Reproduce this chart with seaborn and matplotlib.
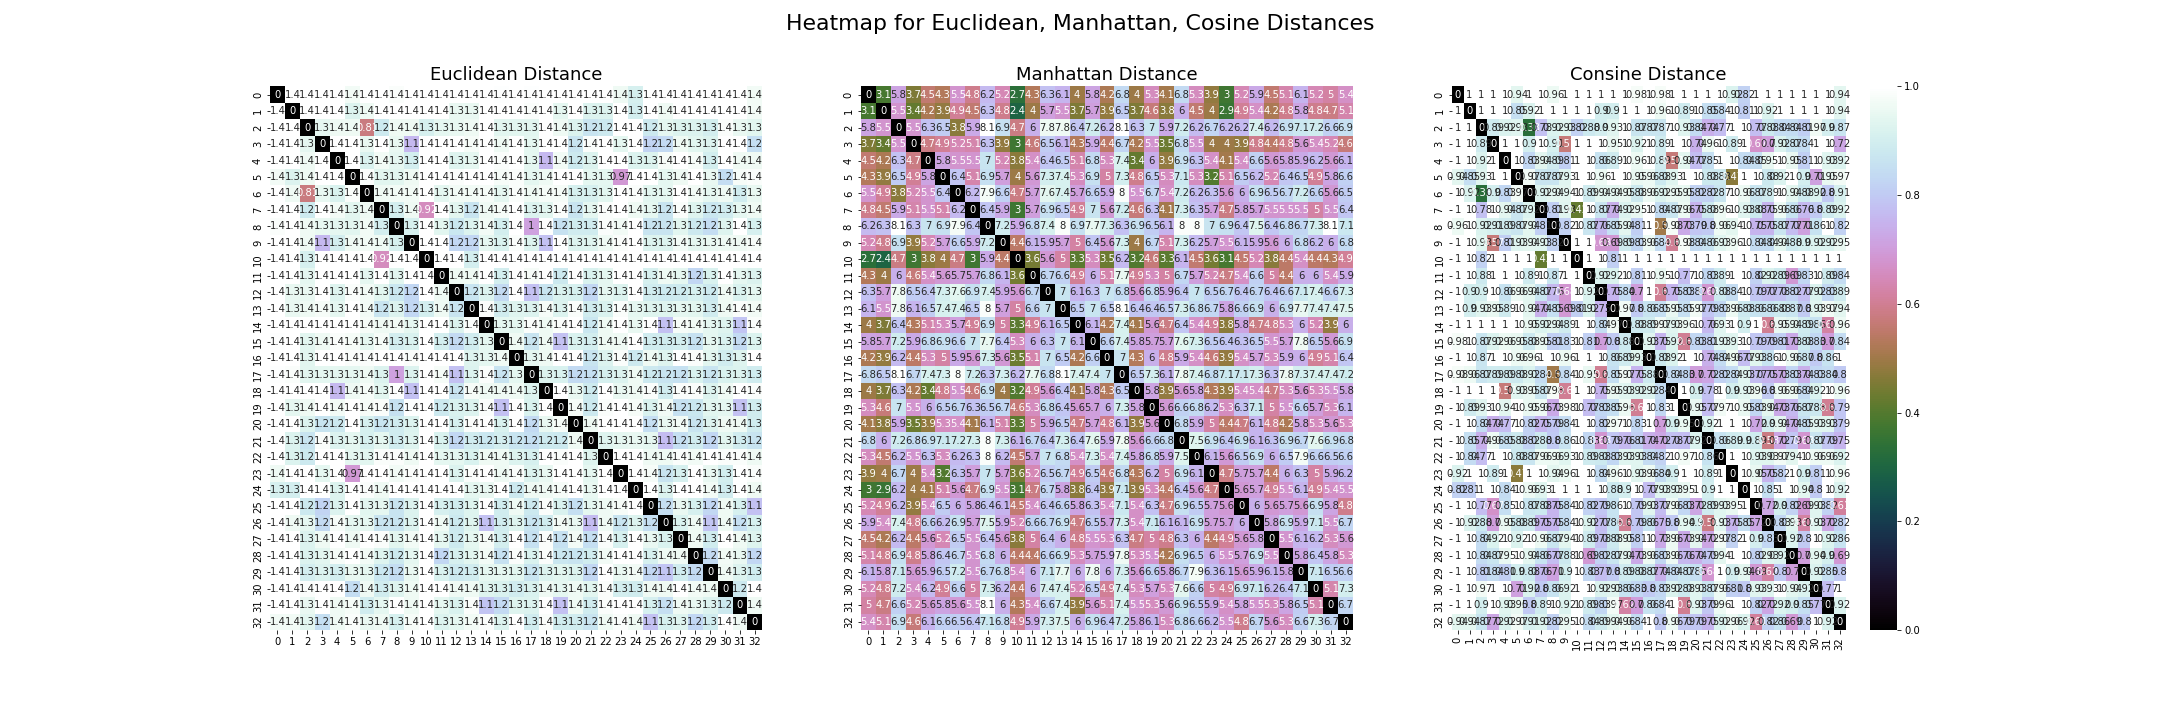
import numpy as np
import pandas as pd
import matplotlib
matplotlib.use("Agg")
import matplotlib.pyplot as plt
import seaborn as sns

labels = list(range(33))
titles = ["Euclidean Distance", "Manhattan Distance", "Consine Distance"]
suptitle = "Heatmap for Euclidean, Manhattan, Cosine Distances"

# upper triangles, row by row (values right of the zero diagonal)
euclidean_rows = [
[1.41,1.41,1.41,1.41,1.37,1.41,1.41,1.39,1.41,1.41,1.41,1.41,1.41,1.41,1.40,1.41,1.40,1.41,1.41,1.41,1.41,1.41,1.36,1.28,1.41,1.41,1.41,1.41,1.41,1.41,1.41,1.37],
[1.41,1.41,1.41,1.30,1.36,1.41,1.41,1.41,1.41,1.41,1.34,1.34,1.41,1.41,1.41,1.39,1.41,1.33,1.41,1.30,1.30,1.41,1.27,1.41,1.36,1.41,1.41,1.41,1.41,1.41,1.37],
[1.33,1.36,1.36,.81,1.25,1.36,1.36,1.28,1.33,1.34,1.36,1.41,1.32,1.32,1.32,1.41,1.36,1.30,1.22,1.24,1.41,1.41,1.24,1.33,1.30,1.30,1.27,1.39,1.34,1.32],
[1.41,1.41,1.34,1.41,1.34,1.07,1.41,1.41,1.41,1.38,1.41,1.36,1.41,1.33,1.41,1.41,1.22,1.39,1.41,1.33,1.41,1.16,1.18,1.36,1.32,1.30,1.41,1.41,1.20],
[1.41,1.29,1.37,1.33,1.27,1.41,1.41,1.31,1.33,1.41,1.39,1.41,1.33,1.07,1.37,1.24,1.30,1.41,1.41,1.30,1.30,1.38,1.41,1.38,1.27,1.41,1.36,1.36],
[1.39,1.32,1.32,1.36,1.41,1.41,1.39,1.41,1.41,1.38,1.39,1.33,1.36,1.41,1.41,1.33,1.33,.97,1.41,1.41,1.33,1.36,1.41,1.34,1.19,1.38,1.39],
[1.36,1.37,1.37,1.41,1.33,1.37,1.37,1.38,1.33,1.39,1.36,1.38,1.38,1.28,1.28,1.32,1.41,1.39,1.32,1.33,1.41,1.37,1.33,1.36,1.26,1.34],
[1.27,1.36,.92,1.41,1.32,1.22,1.36,1.38,1.41,1.30,1.32,1.39,1.22,1.33,1.39,1.41,1.36,1.33,1.22,1.39,1.31,1.23,1.26,1.33,1.36],
[1.28,1.41,1.32,1.23,1.30,1.37,1.27,1.41,1,1.40,1.21,1.26,1.26,1.39,1.37,1.41,1.22,1.22,1.32,1.24,1.19,1.31,1.41,1.28],
[1.41,1.41,1.17,1.17,1.33,1.29,1.39,1.30,1.10,1.40,1.30,1.31,1.36,1.39,1.41,1.30,1.30,1.37,1.33,1.34,1.36,1.36,1.38],
[1.41,1.41,1.27,1.41,1.41,1.41,1.41,1.41,1.41,1.41,1.41,1.41,1.41,1.41,1.41,1.41,1.41,1.41,1.41,1.41,1.41,1.41],
[1.36,1.36,1.41,1.27,1.41,1.38,1.41,1.24,1.41,1.29,1.33,1.41,1.41,1.28,1.36,1.33,1.17,1.29,1.41,1.33,1.30],
[1.22,1.30,1.18,1.41,1.10,1.22,1.29,1.28,1.17,1.33,1.30,1.41,1.26,1.24,1.25,1.28,1.24,1.36,1.29,1.33],
[1.39,1.26,1.31,1.30,1.38,1.30,1.39,1.26,1.29,1.39,1.33,1.31,1.31,1.33,1.32,1.26,1.36,1.39,1.37],
[1.33,1.33,1.39,1.36,1.39,1.41,1.23,1.36,1.41,1.34,1.41,1.10,1.38,1.37,1.33,1.31,1.11,1.39],
[1.36,1.22,1.36,1.10,1.29,1.27,1.36,1.36,1.41,1.26,1.26,1.27,1.21,1.33,1.29,1.18,1.30],
[1.33,1.36,1.41,1.41,1.22,1.30,1.39,1.24,1.36,1.31,1.41,1.39,1.32,1.26,1.31,1.41],
[1.30,1.29,1.18,1.20,1.28,1.30,1.36,1.24,1.22,1.21,1.29,1.22,1.29,1.30,1.26],
[1.41,1.34,1.25,1.41,1.34,1.36,1.39,1.26,1.39,1.39,1.30,1.36,1.41,1.39],
[1.38,1.24,1.39,1.41,1.38,1.29,1.37,1.21,1.23,1.32,1.33,1.10,1.26],
[1.36,1.41,1.41,1.41,1.20,1.34,1.37,1.22,1.30,1.36,1.36,1.26],
[1.31,1.33,1.34,1.33,1.08,1.20,1.26,1.17,1.32,1.26,1.22],
[1.41,1.41,1.36,1.36,1.39,1.37,1.41,1.39,1.39,1.36],
[1.41,1.38,1.22,1.28,1.41,1.34,1.27,1.41,1.39],
[1.41,1.30,1.41,1.41,1.37,1.26,1.41,1.36],
[1.20,1.34,1.28,1.17,1.36,1.28,1.10],
[1.29,1.36,1.11,1.36,1.20,1.28],
[1.36,1.26,1.41,1.36,1.31],
[1.18,1.37,1.34,1.17],
[1.36,1.30,1.26],
[1.24,1.41],
[1.36],
]

manhattan_rows = [
[3.1,5.8,3.7,4.5,4.3,5.5,4.8,6.2,5.2,2.7,4.3,6.3,6.1,4,5.8,4.2,6.8,4,5.3,4.1,6.8,5.3,3.9,3,5.2,5.9,4.5,5.1,6.1,5.2,5,5.4],
[5.5,3.4,4.2,3.9,4.9,4.5,6.3,4.8,2.4,4,5.7,5.5,3.7,5.7,3.9,6.5,3.7,4.6,3.8,6,4.5,4,2.9,4.9,5.4,4.2,4.8,5.8,4.8,4.7,5.1],
[5.5,6.3,6.5,3.8,5.9,8.1,6.9,4.7,6,7.8,7.8,6.4,7.2,6.2,8.1,6.3,7,5.9,7.2,6.2,6.7,6.2,6.2,7.4,6.2,6.9,7.1,7.2,6.6,6.9],
[4.7,4.9,5.2,5.1,6.3,3.9,3,4.6,6.5,6.1,4.3,5.9,4.4,6.7,4.2,5.5,3.5,6.8,5.5,4,4,3.9,4.8,4.4,4.8,5.6,5.4,5.2,4.6],
[5.8,5.5,5.5,7,5.2,3.8,5.4,6.4,6.5,5.1,6.8,5.3,7.4,3.4,6,3.9,6.9,6.3,5.4,4.1,5.4,6.6,5.6,5.8,5.9,6.2,5.6,6.1],
[6.4,5.1,6.9,5.7,4,5.6,7.3,7.4,5.3,6.9,5,7.3,4.8,6.5,5.3,7.1,5.3,3.2,5.1,6.5,6.2,5.2,6.4,6.5,4.9,5.8,6.6],
[6.2,7.9,6.6,4.7,5.7,7.6,7.4,5.7,6.6,5.9,8,5.5,6.7,5.4,7.2,6.2,6.3,5.6,6,6.9,6.5,6.7,7.2,6.6,5.6,6.5],
[6.4,5.9,3,5.7,6.9,6.5,4.9,7,5.6,7.2,4.6,6.3,4.1,7.3,6.3,5.7,4.7,5.8,5.7,5.5,5.5,5.5,5,5.5,6.4],
[7.2,5.9,6.8,7.4,8,6.9,7.7,7.3,6.3,6.9,6.5,6.1,8,8,7,6.9,6.4,7.5,6.4,6.8,6.7,7.3,8.1,7.1],
[4.4,6.1,5.9,5.7,5,6.4,5.6,7.3,4,6.7,5.1,7.3,6.2,5.7,5.5,6.1,5.9,5.6,6,6.8,6.2,6,6.8],
[3.6,5.6,5,3.3,5.3,3.5,6.2,3.2,4.6,3.3,6.1,4.5,3.6,3.1,4.5,5.2,3.8,4.4,5.4,4.4,4.3,4.9],
[6.7,6.6,4.9,6,5.1,7.7,4.9,5.3,5,6.7,5.7,5.2,4.7,5.4,6.6,5,4.4,6,6,5.4,5.9],
[7,6.1,6.3,7,6.8,5.6,6.8,5.9,6.4,7,6.5,6.7,6.4,6.7,6.4,6.6,7.1,7.4,6.6,7.3],
[6.5,7,6.5,8.1,6.4,6.4,6.5,7.3,6.8,6.7,5.8,6.6,6.9,6,6.9,7.7,7.4,7.4,7.5],
[6.1,4.2,7.4,4.1,5.6,4.7,6.4,5.4,4.9,3.8,5.8,4.7,4.8,5.3,6,5.2,3.9,6],
[6.6,7.4,5.8,5.7,5.7,7.6,7.3,6.5,6.4,6.3,6.5,5.5,5.7,7.8,6.5,5.6,6.9],
[7,4.3,6,4.8,5.9,5.4,4.6,3.9,5.4,5.7,5.3,5.9,6,4.9,5.1,6.4],
[6.5,7.3,6.1,7.8,7.4,6.8,7.1,7.1,7.3,6.3,7.8,7.3,7.4,7.4,7.2],
[5.8,3.9,5.6,5.8,4.3,3.9,5.4,5.4,4.7,5.3,5.6,5.3,5.5,5.8],
[5.6,6.6,6.8,6.2,5.3,6.3,7.1,5,5.5,6.6,5.7,5.3,6.1],
[6.8,5.9,5,4.4,4.7,6.1,4.8,4.2,5.8,5.3,5.6,5.3],
[7.5,6.9,6.4,6.9,6.1,6.3,6.9,6.7,7.6,6.9,6.8],
[6.1,5.6,6.5,6.9,6,6.5,7.9,6.6,6.5,6.6],
[4.7,5.7,5.7,4.4,6,6.3,5,5.9,6.2],
[5.6,5.7,4.9,5.5,6.1,4.9,5.4,5.5],
[6,5.6,5.7,5.6,6.9,5.8,4.8],
[5.8,6.9,5.9,7.1,5.5,6.7],
[5.5,6.1,6.2,5.3,5.6],
[5.8,6.4,5.8,5.3],
[7.1,6.5,6.6],
[5.1,7.3],
[6.7],
]

cosine_rows = [
[1,1,1,1,.94,1,1,.96,1,1,1,1,1,1,.98,1,.98,1,1,1,1,1,.92,.82,1,1,1,1,1,1,1,.94],
[1,1,1,.85,.92,1,1,1,1,1,.9,.9,1,1,1,.96,1,.89,1,.85,.84,1,.81,1,.92,1,1,1,1,1,.94],
[.89,.92,.93,.33,.78,.92,.93,.82,.88,.9,.93,1,.87,.87,.87,1,.93,.84,.74,.77,1,1,.77,.88,.84,.84,.81,.97,.9,.87],
[1,1,.9,1,.91,.57,1,1,1,.95,1,.92,1,.89,1,1,.74,.96,1,.89,1,.67,.7,.92,.87,.84,1,1,.72],
[1,.83,.94,.89,.81,1,1,.86,.89,1,.96,1,.89,.57,.94,.77,.85,1,1,.84,.85,.95,1,.95,.81,1,.93,.92],
[.97,.87,.87,.93,1,1,.96,1,1,.95,.96,.88,.93,1,1,.88,.88,.47,1,1,.88,.92,1,.9,.71,.95,.97],
[.92,.94,.94,1,.89,.94,.94,.95,.88,.96,.92,.95,.95,.82,.82,.87,1,.96,.87,.89,1,.94,.88,.92,.8,.91],
[.81,.93,.42,1,.87,.74,.92,.95,1,.84,.87,.96,.75,.88,.96,1,.93,.88,.75,.96,.86,.76,.8,.89,.92],
[.82,1,.87,.76,.85,.94,.81,1,.5,.98,.73,.79,.8,.96,.94,1,.75,.75,.87,.77,.71,.86,1,.82],
[1,1,.68,.69,.89,.83,.96,.84,.6,.98,.84,.86,.93,.96,1,.84,.84,.94,.88,.9,.92,.92,.95],
[1,1,.81,1,1,1,1,1,1,1,1,1,1,1,1,1,1,1,1,1,1,1],
[.92,.92,1,.81,1,.95,1,.77,1,.83,.89,1,1,.82,.92,.89,.69,.83,1,.89,.84],
[.75,.84,.7,1,.6,.75,.83,.82,.68,.88,.84,1,.79,.77,.78,.82,.77,.92,.83,.89],
[.97,.8,.86,.85,.95,.85,.97,.79,.83,.96,.88,.86,.86,.88,.87,.8,.93,.97,.94],
[.88,.89,.97,.93,.96,1,.76,.93,1,.9,1,.6,.95,.94,.89,.86,.62,.96],
[.93,.75,.92,.6,.83,.81,.93,.93,1,.79,.79,.81,.73,.88,.83,.7,.84],
[.88,.92,1,1,.74,.84,.96,.77,.93,.86,1,.96,.87,.8,.86,1],
[.84,.83,.7,.72,.82,.84,.93,.77,.75,.73,.83,.74,.83,.84,.8],
[1,.9,.78,1,.9,.93,.96,.8,.96,.96,.84,.92,1,.96],
[.95,.77,.97,1,.95,.83,.94,.73,.76,.87,.88,.6,.79],
[.92,1,1,1,.72,.9,.94,.74,.85,.93,.93,.79],
[.86,.89,.9,.89,.58,.72,.79,.68,.87,.79,.75],
[1,1,.93,.93,.97,.94,1,.96,.96,.92],
[1,.95,.75,.82,1,.9,.81,1,.96],
[1,.85,1,1,.94,.8,1,.92],
[.72,.9,.82,.69,.93,.82,.61],
[.83,.93,.62,.93,.72,.82],
[.92,.8,1,.92,.86],
[.7,.94,.9,.69],
[.92,.85,.8],
[.77,1],
[.92],
]


def square_frame(rows):
    n = len(labels)
    m = np.zeros((n, n))
    for i, r in enumerate(rows):
        m[i, i + 1:] = r
    return pd.DataFrame(m + m.T, index=labels, columns=labels)


plt.rcParams.update(plt.rcParamsDefault)

fig, axes = plt.subplots(1, 3, figsize=(30, 10), dpi=72)
fig.subplots_adjust(left=0.125, right=0.9, bottom=0.125, top=0.88, wspace=0.2)

for ax, rows, title, cbar in zip(axes, [euclidean_rows, manhattan_rows, cosine_rows], titles, [False, False, True]):
    sns.heatmap(square_frame(rows), ax=ax, cmap="cubehelix", annot=True, cbar=cbar,
                xticklabels=labels, yticklabels=labels)
    ax.set_title(title, fontsize=18)
for ax, rot in zip(axes, [0, 0, 90]):
    ax.tick_params(axis="x", labelrotation=rot)
    ax.tick_params(axis="y", labelrotation=90)
fig.suptitle(suptitle, fontsize=22)
fig.savefig("out.png")
